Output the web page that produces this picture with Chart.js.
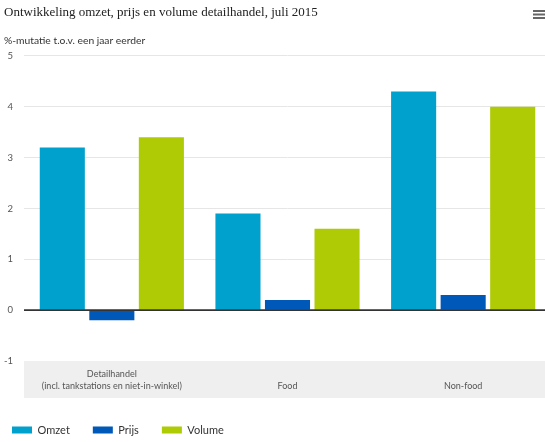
<!DOCTYPE html>
<html>
<head>
<meta charset="utf-8">
<script src="https://cdn.jsdelivr.net/npm/chart.js@4/dist/chart.umd.min.js"></script>
<style>
html, body { margin: 0; padding: 0; overflow: hidden; background: #fff; }
#wrap { width: 551px; height: 442px; }
</style>
</head>
<body>
<div id="wrap"><canvas id="c" width="551" height="442"></canvas></div>
<script>
const titleText = 'Ontwikkeling omzet, prijs en volume detailhandel, juli 2015';
const subtitleText = '%-mutatie t.o.v. een jaar eerder';
const categories = [['Detailhandel', '(incl. tankstations en niet-in-winkel)'], 'Food', 'Non-food'];
const seriesNames = ['Omzet', 'Prijs', 'Volume'];
const omzet = [3.2, 1.9, 4.3];
const prijs = [-0.2, 0.2, 0.3];
const volume = [3.4, 1.6, 4.0];
const seriesColors = ['#00a1cd', '#0058b8', '#afcb05'];
const yMin = -1, yMax = 5, yStep = 1;

const BAND_H = 37;

const decor = {
  id: 'decor',
  afterLayout(chart) {
    const lg = chart.legend;
    if (lg) {
      const p = lg.options.labels.padding;
      lg.left = 12 - p;
      lg.top = 430 - 5.5 - p;
    }
  },
  beforeDraw(chart) {
    const ctx = chart.ctx;
    const x = chart.scales.x;
    const a = chart.chartArea;
    ctx.save();
    ctx.fillStyle = '#efefef';
    ctx.fillRect(a.left, x.top, a.right - a.left, BAND_H);
    ctx.restore();
  },
  afterDatasetsDraw(chart) {
    const ctx = chart.ctx;
    const a = chart.chartArea;
    const y0 = chart.scales.y.getPixelForValue(0);
    ctx.save();
    ctx.strokeStyle = '#333333';
    ctx.lineWidth = 1.6;
    ctx.beginPath();
    ctx.moveTo(a.left, y0);
    ctx.lineTo(a.right, y0);
    ctx.stroke();
    ctx.restore();
  },
  afterDraw(chart) {
    const ctx = chart.ctx;
    ctx.save();
    ctx.strokeStyle = '#666666';
    ctx.lineWidth = 2;
    [11, 14.5, 18].forEach(yy => {
      ctx.beginPath();
      ctx.moveTo(533, yy);
      ctx.lineTo(545, yy);
      ctx.stroke();
    });
    ctx.restore();
  }
};

new Chart(document.getElementById('c'), {
  type: 'bar',
  data: {
    labels: categories,
    datasets: [
      { label: seriesNames[0], data: omzet, backgroundColor: seriesColors[0] },
      { label: seriesNames[1], data: prijs, backgroundColor: seriesColors[1] },
      { label: seriesNames[2], data: volume, backgroundColor: seriesColors[2] }
    ]
  },
  options: {
    responsive: false,
    animation: false,
    devicePixelRatio: 1,
    layout: { padding: { left: 4, right: 0, top: 0, bottom: 0 } },
    datasets: { bar: { categoryPercentage: 0.846, barPercentage: 0.91 } },
    plugins: {
      title: {
        display: true, text: titleText, align: 'start', color: '#222',
        font: { family: 'Liberation Serif', size: 13, weight: 'normal' },
        padding: { top: 5, bottom: 14 }
      },
      subtitle: {
        display: true, text: subtitleText, align: 'start', color: '#333',
        font: { family: 'Lato', size: 10.3 },
        padding: { top: 0, bottom: 9 }
      },
      legend: {
        position: 'bottom', align: 'start', maxHeight: 30,
        labels: {
          boxWidth: 20, boxHeight: 7, padding: 23, color: '#333',
          font: { family: 'Lato', size: 11 }
        }
      },
      tooltip: { enabled: false }
    },
    scales: {
      x: {
        grid: { display: false, drawTicks: false },
        border: { display: false },
        ticks: {
          color: '#555', padding: 13, crossAlign: 'far', maxRotation: 0, autoSkip: false,
          font: { family: 'Lato', size: 9, lineHeight: 1.33 }
        },
        afterFit(s) { s.height = 51; }
      },
      y: {
        min: yMin, max: yMax,
        grid: {
          drawTicks: false,
          color: c => (c.tick && (c.tick.value === 0 || c.tick.value === yMin)) ? 'rgba(0,0,0,0)' : '#e6e6e6'
        },
        border: { display: false },
        ticks: {
          stepSize: yStep, color: '#555', padding: 11,
          font: { family: 'Lato', size: 9.5 }
        },
        afterFit(s) { s.width = 20; }
      }
    }
  },
  plugins: [decor]
});
</script>
</body>
</html>
